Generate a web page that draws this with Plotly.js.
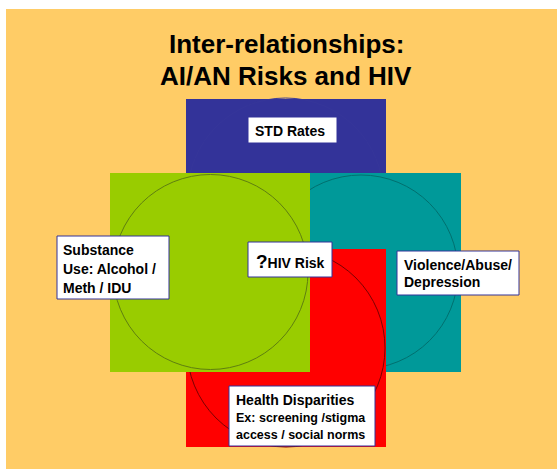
<!DOCTYPE html>
<html>
<head>
<meta charset="utf-8">
<script src="https://cdn.plot.ly/plotly-3.0.1.min.js"></script>
<style>html,body{margin:0;padding:0;background:#fff;}#chart{width:557px;height:469px;}</style>
</head>
<body>
<div id="chart"></div>
<script>
// ---- content ----
const titleLines = ['Inter-relationships:', 'AI/AN Risks and HIV'];
const factorNames = ['STD Rates', 'Substance Use', 'Violence/Abuse/Depression', 'Health Disparities'];
const stdLines = ['STD Rates'];
const substanceLines = ['Substance', 'Use: Alcohol /', 'Meth / IDU'];
const violenceLines = ['Violence/Abuse/', 'Depression'];
const healthLines = ['Health Disparities', 'Ex: screening /stigma', 'access / social norms'];
const centerMark = '?';
const centerLabel = 'HIV Risk';

// ---- geometry (pixel space of the slide) ----
const W = 557, H = 469;
const FONT = 'Liberation Sans, Arial, sans-serif';
const BOXLINE = '#333399';

const shapes = [];
function rect(x0, y0, x1, y1, fill, line, lw) {
  shapes.push({type: 'rect', xref: 'x', yref: 'y', x0, y0, x1, y1,
    fillcolor: fill, line: {color: line || fill, width: lw === undefined ? 0 : lw}, layer: 'above'});
}
function circ(cx, cy, r, line) {
  shapes.push({type: 'circle', xref: 'x', yref: 'y', x0: cx - r, y0: cy - r, x1: cx + r, y1: cy + r,
    fillcolor: 'rgba(0,0,0,0)', line: {color: line, width: 1}, layer: 'above'});
}

// background
rect(6, 9, 560, 472, '#FFCC66');
// STD (blue)
rect(186, 99, 386, 174, '#333399');
circ(285.5, 196, 98, '#363699');
// Violence (teal)
rect(310, 173, 461, 372, '#009999');
circ(361, 272, 97, '#00706f');
// Health disparities (red)
rect(186, 249, 386, 447, '#FF0000');
circ(286, 348, 99, '#7a0000');
// Substance (green)
rect(110, 173, 310, 372, '#99CC00');
circ(210.5, 272, 97.5, '#5f7f10');
// label boxes
rect(248, 117, 337, 143, '#FFFFFF', BOXLINE, 1);
rect(248, 242, 332, 277, '#FFFFFF', BOXLINE, 1);
rect(57, 236, 169, 299, '#FFFFFF', BOXLINE, 1);
rect(397, 251, 519, 295, '#FFFFFF', BOXLINE, 1);
rect(229, 386, 375, 446, '#FFFFFF', BOXLINE, 1);

const annotations = [];
function txt(s, x, y, size, anchor) {
  annotations.push({xref: 'x', yref: 'y', x, y, text: '<b>' + s + '</b>', showarrow: false,
    xanchor: anchor || 'left', yanchor: 'middle', borderpad: 0,
    font: {family: FONT, size, color: '#000000'}});
}
// title
txt(titleLines[0], 286, 44, 26, 'center');
txt(titleLines[1], 286, 76, 26, 'center');
// boxes
stdLines.forEach((s, i) => txt(s, 254, 131 + i * 18, 14));
substanceLines.forEach((s, i) => txt(s, 62, 250 + i * 19, 14));
violenceLines.forEach((s, i) => txt(s, 403, 265 + i * 17, 14));
txt(healthLines[0], 235, 400, 14);
txt(healthLines[1], 235, 417.5, 12.5);
txt(healthLines[2], 235, 434.5, 12.5);
annotations.push({xref: 'x', yref: 'y', x: 255, y: 261, showarrow: false, xanchor: 'left', yanchor: 'middle', borderpad: 0,
  text: '<b><span style="font-size:19px">' + centerMark + '</span>' + centerLabel + '</b>',
  font: {family: FONT, size: 14, color: '#000000'}});

const layout = {
  width: W, height: H,
  margin: {l: 0, r: 0, t: 0, b: 0},
  paper_bgcolor: '#FFFFFF', plot_bgcolor: '#FFFFFF',
  xaxis: {range: [0, W], visible: false, fixedrange: true},
  yaxis: {range: [H, 0], visible: false, fixedrange: true},
  showlegend: false,
  shapes, annotations
};
const data = [{x: [0, W], y: [0, H], mode: 'markers', marker: {opacity: 0}, hoverinfo: 'skip', name: factorNames.join(', ')}];
Plotly.newPlot('chart', data, layout, {staticPlot: true, displayModeBar: false});
</script>
</body>
</html>
